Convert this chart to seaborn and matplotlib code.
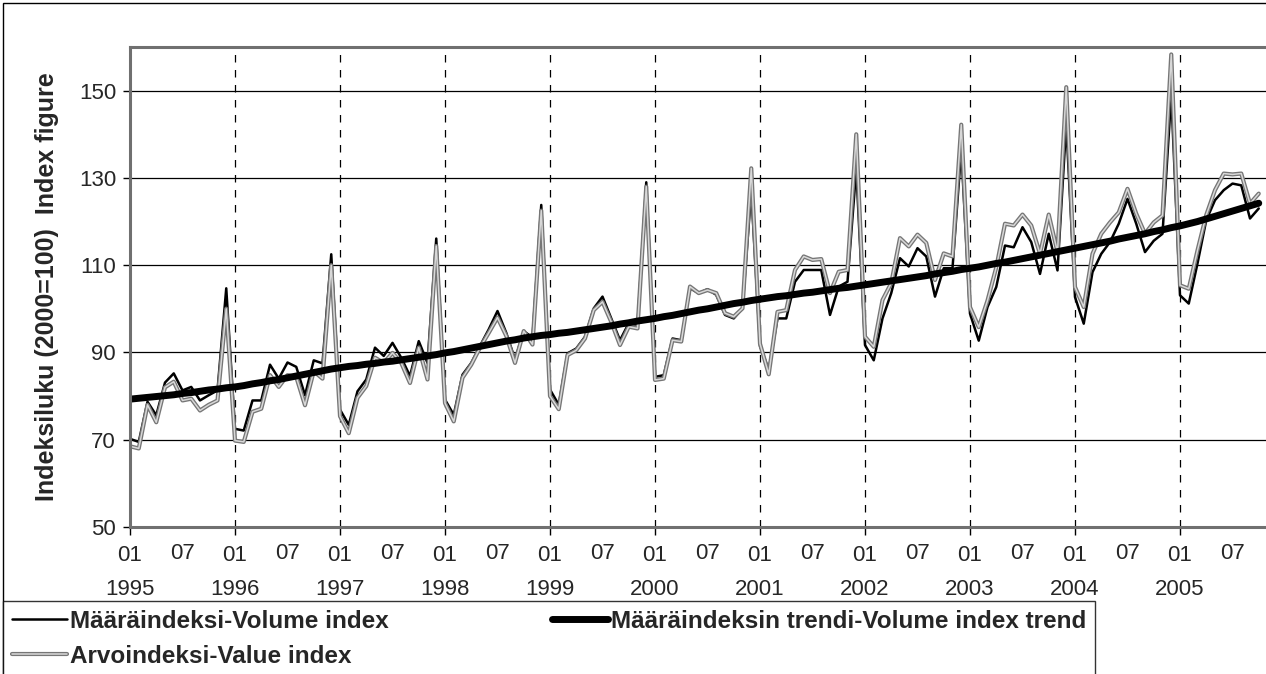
"""Monthly volume / value index with volume trend, 1995-2005."""
import matplotlib
matplotlib.use("Agg")
import matplotlib.pyplot as plt
import matplotlib.patheffects as pe
from matplotlib.patches import Rectangle
import numpy as np
import pandas as pd
import seaborn as sns

# ── data (one value per month from 1995-01) ─────────────────────────────────
years = ["1995", "1996", "1997", "1998", "1999", "2000",
         "2001", "2002", "2003", "2004", "2005"]

volume = [
    70.2, 69.5, 78.7, 75.6, 83.1, 85.2, 81.3, 82.1, 79.0, 80.2, 81.3, 104.7,
    72.5, 72.1, 79.0, 79.0, 87.2, 84.0, 87.7, 86.7, 80.2, 88.2, 87.5, 112.5,
    76.9, 73.4, 81.1, 83.8, 91.1, 89.2, 92.2, 88.8, 84.6, 92.6, 87.6, 116.1,
    79.2, 75.7, 84.9, 87.6, 91.5, 95.3, 99.5, 94.5, 88.4, 94.9, 93.4, 123.8,
    81.5, 78.0, 89.8, 90.9, 93.6, 100.1, 102.8, 97.8, 92.8, 96.7, 96.3, 129.0,
    84.4, 84.8, 93.2, 92.8, 104.7, 103.6, 104.5, 103.2, 98.6, 97.8, 100.1, 127.0,
    91.5, 86.0, 97.8, 97.8, 106.2, 108.9, 108.9, 108.9, 98.6, 105.1, 106.2, 132.0,
    91.7, 88.2, 97.8, 103.6, 111.6, 109.7, 113.9, 112.0, 102.8, 109.3, 109.3, 136.5,
    98.9, 92.7, 100.4, 105.0, 114.5, 114.1, 118.7, 115.3, 108.0, 117.2, 108.8, 142.4,
    102.7, 96.6, 108.4, 112.6, 115.3, 119.5, 125.2, 119.5, 113.0, 115.6, 117.2, 149.0,
    103.1, 101.2, 110.4, 120.3, 124.9, 127.2, 128.7, 128.3, 120.7, 123.0,
]

value = [
    68.5, 68.0, 78.0, 74.0, 82.0, 83.3, 79.0, 79.4, 76.7, 78.0, 79.0, 100.0,
    69.8, 69.5, 76.4, 77.1, 84.8, 82.1, 84.8, 84.4, 77.9, 85.7, 84.0, 110.0,
    75.4, 71.5, 79.6, 82.3, 88.8, 87.6, 89.9, 87.6, 83.0, 91.1, 83.8, 114.4,
    78.4, 74.2, 84.2, 87.2, 91.1, 94.5, 98.0, 93.8, 87.6, 94.9, 91.8, 122.5,
    80.0, 77.0, 89.4, 90.5, 93.2, 99.7, 101.6, 97.0, 91.7, 95.9, 95.5, 128.0,
    83.7, 84.0, 92.8, 92.5, 105.1, 103.6, 104.3, 103.6, 99.0, 98.2, 100.1, 132.2,
    92.0, 85.0, 99.3, 99.7, 108.9, 112.0, 111.2, 111.4, 103.6, 108.5, 108.9, 140.0,
    93.6, 91.3, 102.0, 105.9, 116.2, 114.3, 117.0, 115.1, 106.6, 112.7, 112.0, 142.2,
    100.4, 95.8, 101.9, 109.5, 119.5, 119.1, 121.6, 119.1, 112.6, 121.6, 113.0, 150.8,
    105.0, 100.4, 112.6, 117.2, 119.8, 122.1, 127.5, 121.8, 117.2, 119.8, 121.4, 158.3,
    105.4, 104.6, 113.4, 121.5, 127.2, 131.0, 130.8, 131.0, 124.1, 126.4,
]

trend = [
    79.3, 79.5, 79.7, 79.9, 80.1, 80.3, 80.6, 80.8, 81.1, 81.4, 81.6, 81.9,
    82.1, 82.4, 82.8, 83.1, 83.5, 83.8, 84.2, 84.6, 85.0, 85.4, 85.8, 86.2,
    86.5, 86.8, 87.0, 87.3, 87.5, 87.8, 88.0, 88.3, 88.6, 88.9, 89.2, 89.5,
    89.9, 90.2, 90.6, 91.0, 91.4, 91.8, 92.2, 92.6, 92.9, 93.3, 93.6, 93.9,
    94.1, 94.4, 94.6, 94.9, 95.2, 95.5, 95.8, 96.1, 96.5, 96.8, 97.2, 97.5,
    97.8, 98.2, 98.5, 98.9, 99.3, 99.7, 100.0, 100.4, 100.8, 101.2, 101.5, 101.9,
    102.2, 102.5, 102.8, 103.0, 103.3, 103.6, 103.8, 104.1, 104.4, 104.7, 104.9, 105.2,
    105.5, 105.8, 106.1, 106.4, 106.7, 107.0, 107.3, 107.6, 108.0, 108.3, 108.6, 109.0,
    109.3, 109.6, 110.0, 110.4, 110.7, 111.1, 111.5, 111.9, 112.3, 112.7, 113.1, 113.5,
    113.9, 114.3, 114.7, 115.1, 115.5, 116.0, 116.4, 116.8, 117.2, 117.7, 118.1, 118.6,
    119.0, 119.5, 120.0, 120.6, 121.2, 121.8, 122.4, 123.0, 123.6, 124.2,
]

labels = {
    "volume": "Määräindeksi-Volume index",
    "trend": "Määräindeksin trendi-Volume index trend",
    "value": "Arvoindeksi-Value index",
}

df = pd.DataFrame({"month": np.arange(len(volume)),
                   "volume": volume, "value": value, "trend": trend})

# ── styling ──────────────────────────────────────────────────────────────────
sns.set_theme(style="white")
plt.rcParams["font.family"] = ["Liberation Sans", "DejaVu Sans"]

W, H = 1266, 674
fig = plt.figure(figsize=(W / 100, H / 100), dpi=100)
ax = fig.add_axes([130 / W, 147 / H, 1 - 130 / W, 480 / H])

sns.lineplot(data=df, x="month", y="volume", ax=ax, color="black", lw=1.8,
             label=labels["volume"])
sns.lineplot(data=df, x="month", y="value", ax=ax, color="#d8d8d8", lw=1.1,
             label=labels["value"],
             path_effects=[pe.Stroke(linewidth=3.0, foreground="#767676"),
                           pe.Normal()])
sns.lineplot(data=df, x="month", y="trend", ax=ax, color="black", lw=5.0,
             label=labels["trend"])

# axes ranges and ticks
jan = np.arange(0, len(volume), 12)
jul = jan + 6
ax.set_xlim(0, (W - 130) / 8.75)
ax.set_ylim(50, 160)
ax.set_yticks(range(50, 151, 20))
ax.set_xticks(jan)
ax.set_xticklabels([f"01\n{y}" for y in years], linespacing=1.8)
ax.set_xticks(jul, minor=True)
ax.set_xticklabels(["07"] * len(jul), minor=True)
ax.tick_params(axis="x", which="major", length=6, width=1, color="black",
               direction="out", pad=7, labelsize=16, bottom=True)
ax.tick_params(axis="x", which="minor", length=0, pad=11.3, labelsize=16,
               bottom=True)
ax.tick_params(axis="y", length=5, width=1, color="black", direction="out",
               pad=5, labelsize=16, left=True)
ax.set_xlabel("")
ax.set_ylabel("Indeksiluku (2000=100)  Index figure", fontsize=18,
              fontweight="bold", labelpad=14)

# grid: solid horizontals, dashed verticals at each January
ax.yaxis.grid(True, color="black", lw=0.9)
ax.xaxis.grid(True, which="major", color="black", lw=0.9, ls=(0, (6, 6)))
ax.set_axisbelow(True)

for side in ("left", "top", "bottom"):
    ax.spines[side].set_color("#707070")
    ax.spines[side].set_linewidth(2.2)
ax.spines["right"].set_visible(False)

# outer chart frame
fig.patches.append(Rectangle((3 / W, -0.1), 2, 1 - 3 / H + 0.1, fill=False,
                             ec="black", lw=1, transform=fig.transFigure))

# legend below the plot
handles, labs = ax.get_legend_handles_labels()
ax.get_legend().remove()
order = [labs.index(labels[k]) for k in ("volume", "value", "trend")]
leg = fig.legend([handles[i] for i in order], [labs[i] for i in order],
                 ncol=2, loc="upper left", mode="expand",
                 bbox_to_anchor=(3 / W, 0, 1092 / W, 1 - 601 / H),
                 borderaxespad=0, frameon=True, fancybox=False,
                 edgecolor="black", handlelength=2.3, handletextpad=0.12,
                 borderpad=0.35, labelspacing=0.5,
                 prop={"weight": "bold", "size": 17.5})
leg.get_frame().set_linewidth(1)

fig.savefig("out.png", dpi=100)
